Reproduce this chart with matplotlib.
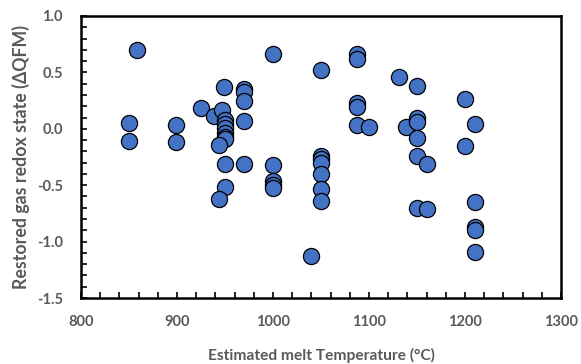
import matplotlib
matplotlib.use("Agg")
import matplotlib.pyplot as plt
from matplotlib.ticker import MultipleLocator

# temperature (C) and restored redox state (dQFM)
temp = [850, 850, 858, 899, 899, 925, 939, 947, 949,
        950, 950, 950, 950, 950, 950, 944, 950, 950, 944,
        970, 970, 970, 970, 970,
        1000, 1000, 1000, 1000, 1000,
        1040,
        1050, 1050, 1050, 1050, 1050, 1050, 1050,
        1087, 1087, 1087, 1087, 1087, 1100,
        1131, 1139, 1150, 1150, 1150, 1150, 1150, 1150, 1160, 1160,
        1200, 1200, 1210, 1210, 1210, 1210, 1210]
redox = [0.05, -0.11, 0.70, 0.03, -0.12, 0.18, 0.11, 0.17, 0.37,
         0.08, 0.04, 0.01, -0.04, -0.07, -0.09, -0.145, -0.31, -0.52, -0.62,
         0.35, 0.33, 0.25, 0.065, -0.31,
         0.66, -0.32, -0.46, -0.50, -0.525,
         -1.13,
         0.52, -0.24, -0.27, -0.30, -0.40, -0.53, -0.64,
         0.66, 0.62, 0.23, 0.195, 0.03, 0.02,
         0.46, 0.02, 0.38, 0.10, 0.06, -0.08, -0.24, -0.70, -0.31, -0.71,
         0.26, -0.15, 0.04, -0.65, -0.87, -0.90, -1.09]

grey = "#595959"
plt.rcParams['font.family'] = ['Lato', 'DejaVu Sans']

fig = plt.figure(figsize=(5.81, 3.64), dpi=100)
ax = fig.add_axes([81 / 581, 1 - 298 / 364, 480 / 581, 282 / 364])

ax.scatter(temp, redox, s=135, c="#4472C4", edgecolors="black",
           linewidths=0.9, zorder=3, clip_on=False)

ax.set_xlim(800, 1300)
ax.set_ylim(-1.5, 1.0)
ax.xaxis.set_major_locator(MultipleLocator(100))
ax.xaxis.set_minor_locator(MultipleLocator(20))
ax.yaxis.set_major_locator(MultipleLocator(0.5))
ax.yaxis.set_minor_locator(MultipleLocator(0.1))
ax.yaxis.set_major_formatter(lambda v, p: f"{v:.1f}")

for s in ax.spines.values():
    s.set_linewidth(1.8)
ax.tick_params(which="both", direction="in", length=4, width=1.2,
               top=False, right=False)
ax.tick_params(axis="x", which="major", pad=12)
ax.tick_params(axis="y", which="major", pad=13)
for lab in ax.get_xticklabels() + ax.get_yticklabels():
    lab.set_fontsize(10.5)
    lab.set_fontweight("bold")
    lab.set_color(grey)

ax.set_xlabel("Estimated melt Temperature (°C)", fontsize=11.2,
              fontweight="bold", color=grey, labelpad=14)
ax.set_ylabel("Restored gas redox state (ΔQFM)", fontsize=12.8,
              fontweight="bold", color=grey, labelpad=5)

fig.savefig("out.png", dpi=100)
